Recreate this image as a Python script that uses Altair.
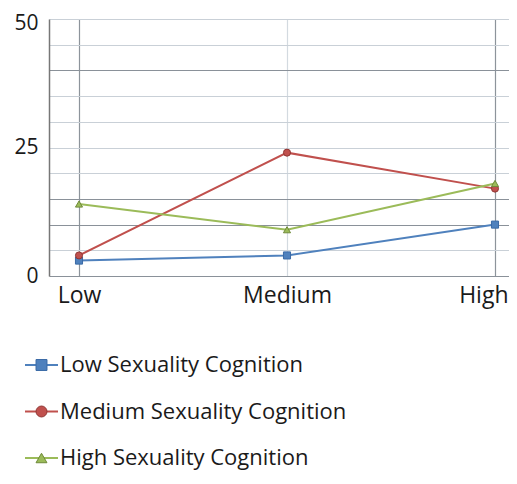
import altair as alt
import pandas as pd

levels = ["Low", "Medium", "High"]
series = ["Low Sexuality Cognition", "Medium Sexuality Cognition", "High Sexuality Cognition"]
low_vals = [3, 4, 10]
med_vals = [4, 24, 17]
high_vals = [14, 9, 18]

line_colors = ["#4f81bd", "#c0504d", "#9bbb59"]
edge_colors = ["#3a6aa6", "#8f3532", "#6f8a3a"]
shapes = ["square", "circle", "triangle-up"]

rows = []
for s, vals in zip(series, [low_vals, med_vals, high_vals]):
    for i, (lv, v) in enumerate(zip(levels, vals)):
        rows.append({"idx": i, "level": lv, "series": s, "value": v})
df = pd.DataFrame(rows)
legend_df = pd.DataFrame({"series": series})

FONT = "Open Sans"
TXT = "#1a1a1a"
W = 460
last = len(levels) - 1

y_grid = alt.condition(
    "datum.value === 0 || datum.value === 10 || datum.value === 15 || datum.value === 40",
    alt.value("#8a9199"),
    alt.value("#c9d0d7"),
)
x_grid = alt.condition("datum.value === 1", alt.value("#d3dae0"), alt.value("#8d949b"))
label_expr = "[" + ",".join("'%s'" % l for l in levels) + "][datum.value]"

x = alt.X(
    "idx:Q",
    scale=alt.Scale(domain=[-30 / 208, (W - 30) / 208], nice=False, zero=False),
    axis=alt.Axis(
        title=None, values=list(range(len(levels))), labelExpr=label_expr,
        labelAngle=0, labelFontSize=23, labelFont=FONT, labelColor=TXT,
        domain=False, ticks=False, grid=True, gridColor=x_grid, gridWidth=1.2,
        labelPadding=8, labelBaseline="top", labelFlush=False,
        labelAlign=alt.condition("datum.value === %d" % last, alt.value("right"), alt.value("center")),
        labelOffset=alt.condition("datum.value === %d" % last, alt.value(13), alt.value(0)),
    ),
)
y = alt.Y(
    "value:Q",
    scale=alt.Scale(domain=[0, 50], nice=False),
    axis=alt.Axis(
        title=None, values=list(range(0, 51, 5)),
        labelExpr="datum.value % 25 === 0 ? datum.label : ''",
        ticks=False, domainColor="#777777", domainWidth=1.5,
        labelFontSize=21, labelFont=FONT, labelColor=TXT, labelPadding=11,
        labelFlush=False,
        labelOffset=alt.condition("datum.value === 50", alt.value(4), alt.value(0)),
        grid=True, gridColor=y_grid, gridWidth=1.1,
    ),
)

color_scale = alt.Scale(domain=series, range=line_colors)
fill_scale = alt.Scale(domain=series, range=line_colors)
stroke_scale = alt.Scale(domain=series, range=edge_colors)
shape_scale = alt.Scale(domain=series, range=shapes)

base = alt.Chart(df).encode(x=x, y=y)

lines = base.mark_line(strokeWidth=2).encode(
    color=alt.Color("series:N", scale=color_scale, legend=None)
)
points = base.mark_point(filled=True, size=50, strokeWidth=1, opacity=1).encode(
    fill=alt.Fill("series:N", scale=fill_scale, legend=None),
    stroke=alt.Stroke("series:N", scale=stroke_scale, legend=None),
    shape=alt.Shape("series:N", scale=shape_scale, legend=None),
)
main = alt.layer(lines, points)

ly = alt.Y(
    "series:N", sort=series,
    scale=alt.Scale(type="point", domain=series, range=[346, 439], padding=0),
    axis=None,
)
lbase = alt.Chart(legend_df).encode(y=ly)
leg_line = lbase.mark_rule(strokeWidth=2).encode(
    x=alt.value(-24), x2=alt.value(9),
    color=alt.Color("series:N", scale=color_scale, legend=None),
)
leg_pt = lbase.mark_point(filled=True, size=120, strokeWidth=1, opacity=1).encode(
    x=alt.value(-7.5),
    fill=alt.Fill("series:N", scale=fill_scale, legend=None),
    stroke=alt.Stroke("series:N", scale=stroke_scale, legend=None),
    shape=alt.Shape("series:N", scale=shape_scale, legend=None),
)
leg_txt = lbase.mark_text(align="left", baseline="middle", fontSize=22, font=FONT, color=TXT).encode(
    x=alt.value(11), text="series:N"
)
legend = alt.layer(leg_line, leg_pt, leg_txt)

chart = (
    alt.layer(main, legend)
    .resolve_scale(y="independent")
    .properties(
        width=W, height=257,
        autosize=alt.AutoSizeParams(type="none"),
        padding={"left": 41, "top": 11, "right": 0, "bottom": 194},
    )
    .configure_view(stroke=None)
)

chart.save("out.html", embed_options={"renderer": "svg", "actions": False})
